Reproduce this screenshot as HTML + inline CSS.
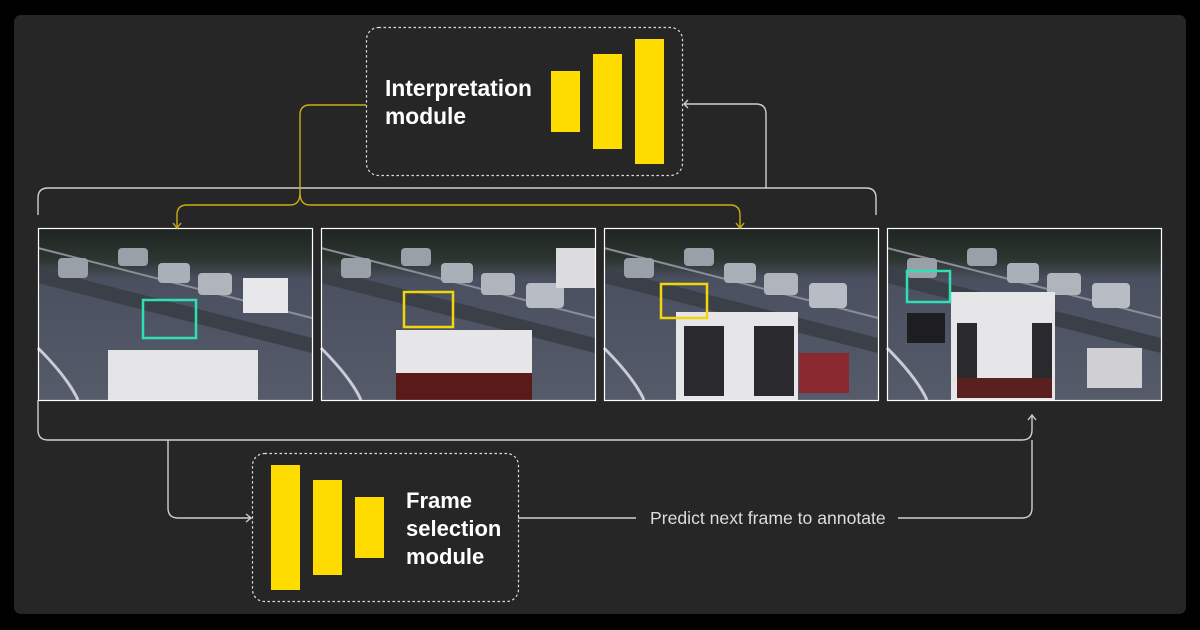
<!DOCTYPE html>
<html><head><style>
html,body{margin:0;padding:0;background:#000;width:1200px;height:630px;overflow:hidden}
svg{display:block}
text{font-family:"Liberation Sans",sans-serif}
</style></head><body>
<svg width="1200" height="630" viewBox="0 0 1200 630" xmlns="http://www.w3.org/2000/svg">
<defs>
<linearGradient id="ph" x1="0" y1="0" x2="0" y2="1">
<stop offset="0" stop-color="#1e2420"/><stop offset="0.18" stop-color="#2c3530"/><stop offset="0.3" stop-color="#4a5060"/><stop offset="1" stop-color="#565b6a"/>
</linearGradient>
<g id="photo">
<rect width="274" height="172" fill="url(#ph)"/>
<path d="M0 40 L274 110 L274 125 L0 55Z" fill="#3a3f48"/>
<path d="M0 20 L274 90" stroke="#8a8e98" stroke-width="2"/>
<path d="M0 120 Q30 150 40 172" stroke="#c8ccd4" stroke-width="3" fill="none"/>
<rect x="20" y="30" width="30" height="20" rx="4" fill="#9aa0a8"/>
<rect x="80" y="20" width="30" height="18" rx="4" fill="#9aa0a8"/>
<rect x="120" y="35" width="32" height="20" rx="4" fill="#aab0b8"/>
<rect x="160" y="45" width="34" height="22" rx="4" fill="#b0b5bc"/>
<rect x="205" y="55" width="38" height="25" rx="4" fill="#b8bcc4"/>
</g>
</defs>
<rect x="14" y="15" width="1172" height="599" rx="7" fill="#262626"/>

<g transform="translate(38,228)"><use href="#photo"/><rect x="70" y="122" width="150" height="50" fill="#e4e4e6"/><rect x="205" y="50" width="45" height="35" fill="#e8e8ea"/></g>
<g transform="translate(321,228)"><use href="#photo"/><rect x="75" y="102" width="136" height="70" fill="#e6e6e8"/><rect x="75" y="145" width="136" height="27" fill="#5a1a1a"/><rect x="235" y="20" width="40" height="40" fill="#dcdcde"/></g>
<g transform="translate(604,228)"><use href="#photo"/><rect x="72" y="84" width="122" height="88" fill="#e6e6e8"/><rect x="80" y="98" width="40" height="70" fill="#2a2a2e"/><rect x="150" y="98" width="40" height="70" fill="#2a2a2e"/><rect x="195" y="125" width="50" height="40" fill="#8a2a30"/></g>
<g transform="translate(887,228)"><use href="#photo"/><rect x="64" y="64" width="104" height="108" fill="#e6e6e8"/><rect x="70" y="95" width="20" height="60" fill="#2a2a2e"/><rect x="145" y="95" width="20" height="60" fill="#2a2a2e"/><rect x="70" y="150" width="95" height="20" fill="#5a2020"/><rect x="200" y="120" width="55" height="40" fill="#d0d0d4"/><rect x="20" y="85" width="38" height="30" fill="#1e1e22"/></g>
<g fill="none" stroke="#fff" stroke-width="1.2">
<rect x="38.5" y="228.5" width="274" height="172"/><rect x="321.5" y="228.5" width="274" height="172"/><rect x="604.5" y="228.5" width="274" height="172"/><rect x="887.5" y="228.5" width="274" height="172"/>
</g>
<g fill="none" stroke-width="2.5">
<rect x="143" y="300" width="53" height="38" stroke="#2ee0b4"/>
<rect x="404" y="292" width="49" height="35" stroke="#f2d60a"/>
<rect x="661" y="284" width="46" height="34" stroke="#f2d60a"/>
<rect x="907" y="271" width="43" height="31" stroke="#2ee0b4"/>
</g>

<rect x="366.5" y="27.5" width="316" height="148" rx="12" fill="none" stroke="#ddd" stroke-width="1.2" stroke-dasharray="2.5 2.5"/>
<text x="385" y="96" fill="#fff" font-size="22.8" font-weight="bold">Interpretation</text>
<text x="385" y="124" fill="#fff" font-size="22.8" font-weight="bold">module</text>
<g fill="#ffdc00"><rect x="551" y="71" width="29" height="61"/><rect x="593" y="54" width="29" height="95"/><rect x="635" y="39" width="29" height="125"/></g>

<rect x="252.5" y="453.5" width="266" height="148" rx="12" fill="none" stroke="#ddd" stroke-width="1.2" stroke-dasharray="2.5 2.5"/>
<g fill="#ffdc00"><rect x="271" y="465" width="29" height="125"/><rect x="313" y="480" width="29" height="95"/><rect x="355" y="497" width="29" height="61"/></g>
<text x="406" y="508" fill="#fff" font-size="22" font-weight="bold">Frame</text>
<text x="406" y="536" fill="#fff" font-size="22" font-weight="bold">selection</text>
<text x="406" y="564" fill="#fff" font-size="22" font-weight="bold">module</text>

<g fill="none" stroke="#cfcfcf" stroke-width="1.4">
<path d="M38 215 V198 Q38 188 48 188 H866 Q876 188 876 198 V215"/>
<path d="M766 188 V114 Q766 104 756 104 H684"/>
<path d="M688 100 L684 104 L688 108"/>
<path d="M38 400 V430 Q38 440 48 440 H1022 Q1032 440 1032 430 V416"/>
<path d="M1028 420 L1032 415 L1036 420"/>
<path d="M168 440 V508 Q168 518 178 518 H250"/>
<path d="M246 514 L251 518 L246 522"/>
<path d="M518 518 H636"/>
<path d="M898 518 H1022 Q1032 518 1032 508 V440"/>
</g>
<text x="650" y="524" fill="#ddd" font-size="17.6">Predict next frame to annotate</text>

<g fill="none" stroke="#c9ad12" stroke-width="1.4">
<path d="M366 105 H310 Q300 105 300 115 V193 Q300 205 290 205 H187 Q177 205 177 215 V227"/>
<path d="M300 193 Q300 205 310 205 H730 Q740 205 740 215 V227"/>
<path d="M173 223 L177 228 L181 223"/>
<path d="M736 223 L740 228 L744 223"/>
</g>
</svg>
</body></html>
